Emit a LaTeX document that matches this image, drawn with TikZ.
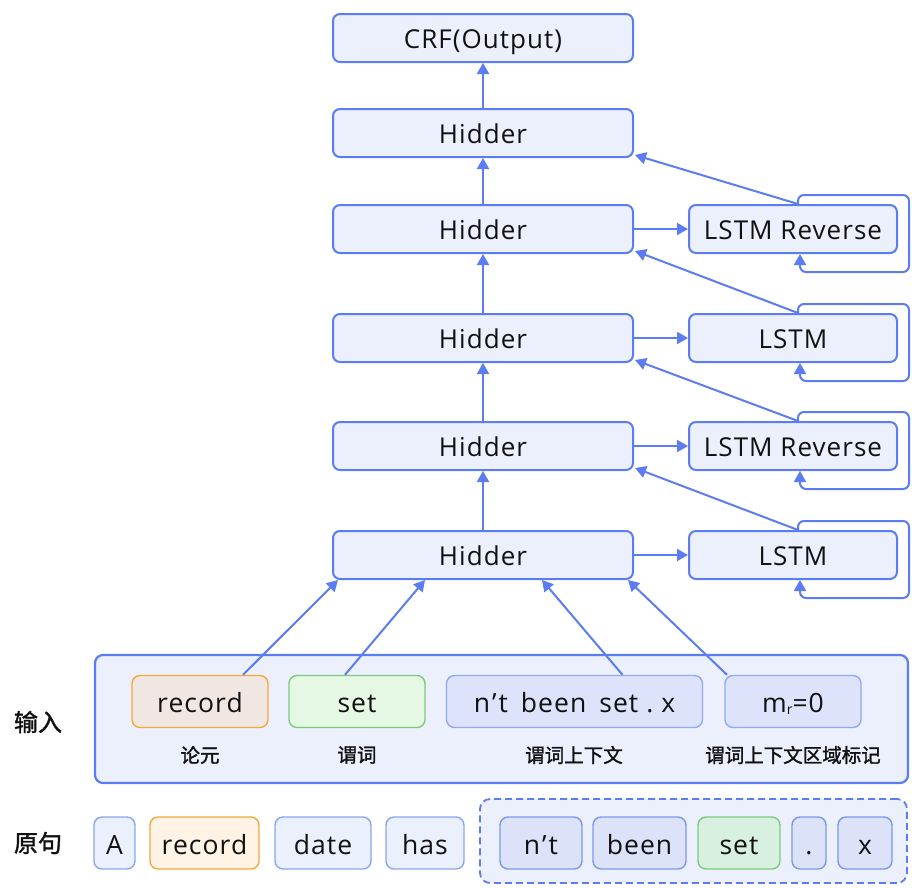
\documentclass[tikz,border=0pt]{standalone}
\usepackage{fontspec}
\usetikzlibrary{arrows.meta}
\newfontfamily\lat[LetterSpace=4]{Open Sans}
\newfontfamily\cjk[FakeBold=1.5]{Noto Sans CJK SC}

\definecolor{lblue}{HTML}{5B7CF2}
\definecolor{hfill}{HTML}{ECF0FC}
\definecolor{org}{HTML}{F5A93B}
\definecolor{orgfillA}{HTML}{F0E7E3}
\definecolor{orgfillB}{HTML}{FEF3E5}
\definecolor{grn}{HTML}{7CCB7C}
\definecolor{grnfillA}{HTML}{E4F8E4}
\definecolor{grnfillB}{HTML}{D8F0DF}
\definecolor{ctxfill}{HTML}{DDE3FA}
\definecolor{ctxdraw}{HTML}{91A8F3}
\definecolor{wordfill}{HTML}{EAF0FC}
\definecolor{worddraw}{HTML}{8CA5F0}
\definecolor{spanfill}{HTML}{DCE2F8}
\definecolor{spandraw}{HTML}{7D97EE}
\definecolor{ink}{HTML}{111111}

\tikzset{
  every node/.style={text=ink},
  layerbox/.style={draw=lblue, fill=hfill, rounded corners=7pt, line width=2pt,
    minimum width=300pt, minimum height=48pt, inner sep=0pt,
    text height=20pt, text depth=0pt,
    font=\lat\fontsize{26}{28}\selectfont},
  lstmbox/.style={layerbox, minimum width=208pt},
  arr/.style={draw=lblue, line width=2pt, -{Triangle[length=11pt,width=12pt]}},
  tokbox/.style={rounded corners=8pt, line width=1.4pt, minimum height=52pt, inner sep=0pt,
    text height=22pt, text depth=0pt,
    font=\lat\fontsize{26.5}{28}\selectfont},
  wordbox/.style={tokbox, draw=worddraw, fill=wordfill},
  spanbox/.style={tokbox, draw=spandraw, fill=spanfill},
  argbox/.style={tokbox, draw=org},
  prdbox/.style={tokbox, draw=grn},
  captext/.style={font=\cjk\fontsize{19.5}{22}\selectfont},
  sidetext/.style={font=\cjk\fontsize{24}{26}\selectfont},
}

\begin{document}
\begin{tikzpicture}[x=1pt, y=-1pt]
\useasboundingbox (0,0) rectangle (912,887);

% stacked hidden layers and output
\node[layerbox] (crf) at (483,38)  {CRF(Output)};
\node[layerbox] (h1)  at (483,133) {Hidder};
\node[layerbox] (h2)  at (483,229) {Hidder};
\node[layerbox] (h3)  at (483,338) {Hidder};
\node[layerbox] (h4)  at (483,446) {Hidder};
\node[layerbox] (h5)  at (483,555) {Hidder};

% recurrent cells
\node[lstmbox] (l2) at (793,229) {LSTM Reverse};
\node[lstmbox] (l3) at (793,338) {LSTM};
\node[lstmbox] (l4) at (793,446) {LSTM Reverse};
\node[lstmbox] (l5) at (793,555) {LSTM};

% vertical flow
\draw[arr] (h5) -- (h4);
\draw[arr] (h4) -- (h3);
\draw[arr] (h3) -- (h2);
\draw[arr] (h2) -- (h1);
\draw[arr] (h1) -- (crf);

% layer -> cell, cell -> next layer, and the self loop of each cell
\foreach \l/\h/\n in {l2/h2/h1, l3/h3/h2, l4/h4/h3, l5/h5/h4}{
  \draw[arr] (\h.east) -- (\l.west);
  \draw[arr] ([xshift=5pt]\l.north) -- ([xshift=1pt,yshift=3pt]\n.south east);
  \draw[arr, rounded corners=6pt] ([xshift=5pt]\l.north) -- ([xshift=5pt,yshift=9pt]\l.north)
     -| ([xshift=11pt,yshift=-18pt]\l.south east) -| ([xshift=7pt]\l.south);
}

% input block
\node[draw=lblue, fill=hfill, rounded corners=8pt, line width=2.2pt,
      minimum width=813pt, minimum height=128pt, inner sep=0pt] (inp) at (501.5,719) {};
\node[argbox, fill=orgfillA, minimum width=136pt] (irec) at (200,701.5) {record};
\node[prdbox, fill=grnfillA, minimum width=136pt] (iset) at (357,701.5) {set};
\node[tokbox, draw=ctxdraw, fill=ctxfill, minimum width=256pt] (ictx) at (574.5,701.5)
  {n\kern2pt’\kern2pt t\hspace{13pt}been\hspace{13pt}set\hspace{8pt}.\hspace{8pt}x};
\node[tokbox, draw=ctxdraw, fill=ctxfill, minimum width=136pt] (imr) at (793,701.5)
  {m\raisebox{-2pt}{\fontsize{14}{14}\selectfont r}=0};

\node[captext] (c1) at (200,755) {论元};
\node[captext] (c2) at (357,755) {谓词};
\node[captext] (c3) at (574,755) {谓词上下文};
\node[captext] (c4) at (793,755) {谓词上下文区域标记};
\node[sidetext] (lbin) at (38,722) {输入};

\draw[arr] ([xshift=43pt]irec.north)  -- ([xshift=-145pt]h5.south);
\draw[arr] ([xshift=-12pt]iset.north) -- ([xshift=-58pt]h5.south);
\draw[arr] ([xshift=48pt]ictx.north)  -- ([xshift=59pt]h5.south);
\draw[arr] ([xshift=-66pt]imr.north)  -- ([xshift=145pt]h5.south);

% original sentence
\node[sidetext] (lbsrc) at (38,843) {原句};
\node[draw=lblue, fill=hfill, rounded corners=10pt, line width=1.8pt,
      dash pattern=on 7pt off 4pt, minimum width=427pt, minimum height=84pt, inner sep=0pt]
      (span) at (693.5,841) {};
\node[wordbox, minimum width=41pt]  (wA)    at (114.5,843) {A};
\node[argbox, fill=orgfillB, minimum width=109pt] (wrec) at (204.5,843) {record};
\node[wordbox, minimum width=96pt]  (wdate) at (323,843) {date};
\node[wordbox, minimum width=78pt]  (whas)  at (425,843) {has};
\node[spanbox, minimum width=82pt]  (wnt)   at (541,843) {n\kern2pt’\kern2pt t};
\node[spanbox, minimum width=93pt]  (wbeen) at (639.5,843) {been};
\node[prdbox, fill=grnfillB, minimum width=82pt] (wset) at (739,843) {set};
\node[spanbox, minimum width=34pt]  (wdot)  at (809,843) {.};
\node[spanbox, minimum width=54pt]  (wx)    at (865,843) {x};
\end{tikzpicture}
\end{document}
